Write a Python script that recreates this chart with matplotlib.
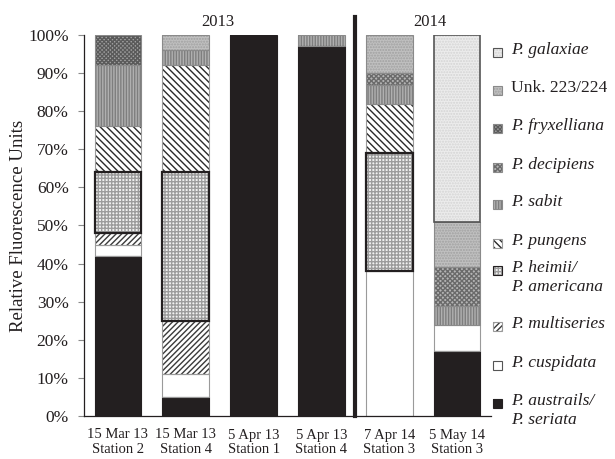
import matplotlib
matplotlib.use("Agg")
import matplotlib.pyplot as plt
from matplotlib.patches import Rectangle
import numpy as np

plt.rcParams["font.family"] = ["Liberation Serif", "DejaVu Serif"]
plt.rcParams["hatch.linewidth"] = 1.0

samples = ["15 Mar 13\nStation 2", "15 Mar 13\nStation 4", "5 Apr 13\nStation 1",
           "5 Apr 13\nStation 4", "7 Apr 14\nStation 3", "5 May 14\nStation 3"]

# relative fluorescence (%) per species, stacked bottom-up
austrails = [42, 5, 100, 97, 0, 17]
cuspidata = [3, 6, 0, 0, 38, 7]
multiseries = [3, 14, 0, 0, 0, 0]
heimii = [16, 39, 0, 0, 31, 0]
pungens = [12, 28, 0, 0, 13, 0]
sabit = [16, 4, 0, 3, 5, 5]
decipiens = [0, 0, 0, 0, 3, 10]
fryxelliana = [8, 0, 0, 0, 0, 0]
unk = [0, 4, 0, 0, 10, 12]
galaxiae = [0, 0, 0, 0, 0, 49]

years = ["2013", "2014"]

series = [
    ("austrails", austrails), ("cuspidata", cuspidata), ("multiseries", multiseries),
    ("heimii", heimii), ("pungens", pungens), ("sabit", sabit), ("decipiens", decipiens),
    ("fryxelliana", fryxelliana), ("unk", unk), ("galaxiae", galaxiae),
]

# face, hatch, hatch colour, edge colour, edge width
styles = {
    "austrails": ("#231f20", "", "#231f20", "#231f20", 0.8),
    "cuspidata": ("white", "", "white", "#9a9a9a", 0.8),
    "multiseries": ("white", "//////", "#3a3a3a", "#9a9a9a", 0.8),
    "heimii": ("#f2f2f2", "+++++", "#9c9c9c", "#231f20", 1.6),
    "pungens": ("white", "\\\\\\\\\\", "#2a2a2a", "#9a9a9a", 0.8),
    "sabit": ("#b0b0b0", "||||||", "#7e7e7e", "#8a8a8a", 0.8),
    "decipiens": ("#b4b4b4", "xxxxxxx", "#6a6a6a", "#8a8a8a", 0.8),
    "fryxelliana": ("#a0a0a0", "xxxxxxxx", "#5a5a5a", "#8a8a8a", 0.8),
    "unk": ("#c0c0c0", "......", "#a0a0a0", "#8a8a8a", 0.8),
    "galaxiae": ("#ececec", "......", "#d4d4d4", "#555555", 1.2),
}

legend_items = [
    ("galaxiae", "P. galaxiae", True),
    ("unk", "Unk. 223/224", False),
    ("fryxelliana", "P. fryxelliana", True),
    ("decipiens", "P. decipiens", True),
    ("sabit", "P. sabit", True),
    ("pungens", "P. pungens", True),
    ("heimii", "P. heimii/\nP. americana", True),
    ("multiseries", "P. multiseries", True),
    ("cuspidata", "P. cuspidata", True),
    ("austrails", "P. austrails/\nP. seriata", True),
]

W, H = 615, 459
fig = plt.figure(figsize=(W / 100, H / 100), dpi=100)
ax = fig.add_axes([84 / W, 1 - 416 / H, (491 - 84) / W, (416 - 35) / H])

x = np.arange(len(samples))
width = 0.69
bottom = np.zeros(len(samples))
edges = []
for name, vals in series:
    vals = np.asarray(vals, dtype=float)
    face, hatch, hcol, ecol, lw = styles[name]
    m = vals > 0
    ax.bar(x[m], vals[m], width, bottom=bottom[m], color=face, edgecolor=hcol,
           hatch=hatch, linewidth=0)
    edges.append((name, x[m], vals[m], bottom[m].copy()))
    bottom += vals

for name, xx, vv, bb in sorted(edges, key=lambda e: e[0] == "heimii"):
    face, hatch, hcol, ecol, lw = styles[name]
    ax.bar(xx, vv, width, bottom=bb, fill=False, edgecolor=ecol, linewidth=lw)

ax.set_xlim(-0.5, len(samples) - 0.5)
ax.set_ylim(0, 100)
ax.set_yticks(np.arange(0, 101, 10))
ax.set_yticklabels([f"{v}%" for v in range(0, 101, 10)], fontsize=12.5, color="#231f20")
ax.tick_params(axis="y", length=4, width=0.8, color="#8a8a8a", pad=7)
ax.set_xticks(x)
ax.set_xticklabels(samples, fontsize=10.5, color="#231f20", linespacing=1.15)
ax.tick_params(axis="x", length=0, pad=9)
for s in ("top", "right"):
    ax.spines[s].set_visible(False)
for s in ("left", "bottom"):
    ax.spines[s].set_color("#231f20")
    ax.spines[s].set_linewidth(0.9)

ax.set_ylabel("Relative Fluorescence Units", fontsize=13.5, color="#231f20")
ax.yaxis.set_label_coords((27 - 84) / (491 - 84), 0.5)

# year separator and headings
ax.plot([3.5, 3.5], [0, 104.7], color="#231f20", lw=3, clip_on=False)
ax.text(1.47, 103.3, years[0], ha="center", va="center", fontsize=12, color="#231f20")
ax.text(4.6, 103.3, years[1], ha="center", va="center", fontsize=12, color="#231f20")

# legend drawn by hand
leg_y = [52, 90, 128, 167, 204, 243, 270, 326, 365, 403]
for (name, label, ital), yc in zip(legend_items, leg_y):
    face, hatch, hcol, ecol, lw = styles[name]
    box = (493 / W, 1 - (yc + 5) / H)
    fig.add_artist(Rectangle(box, 9 / W, 9 / H, transform=fig.transFigure,
                             facecolor=face, edgecolor=hcol, hatch=hatch, linewidth=0))
    fig.add_artist(Rectangle(box, 9 / W, 9 / H, transform=fig.transFigure,
                             fill=False, edgecolor=ecol if name != "cuspidata" else "#555555",
                             linewidth=0.8))
    fig.text(511 / W, 1 - (yc - 10) / H, label, ha="left", va="top", fontsize=12.6,
             style="italic" if ital else "normal", color="#231f20", linespacing=1.25)

fig.savefig("out.png", dpi=100)
